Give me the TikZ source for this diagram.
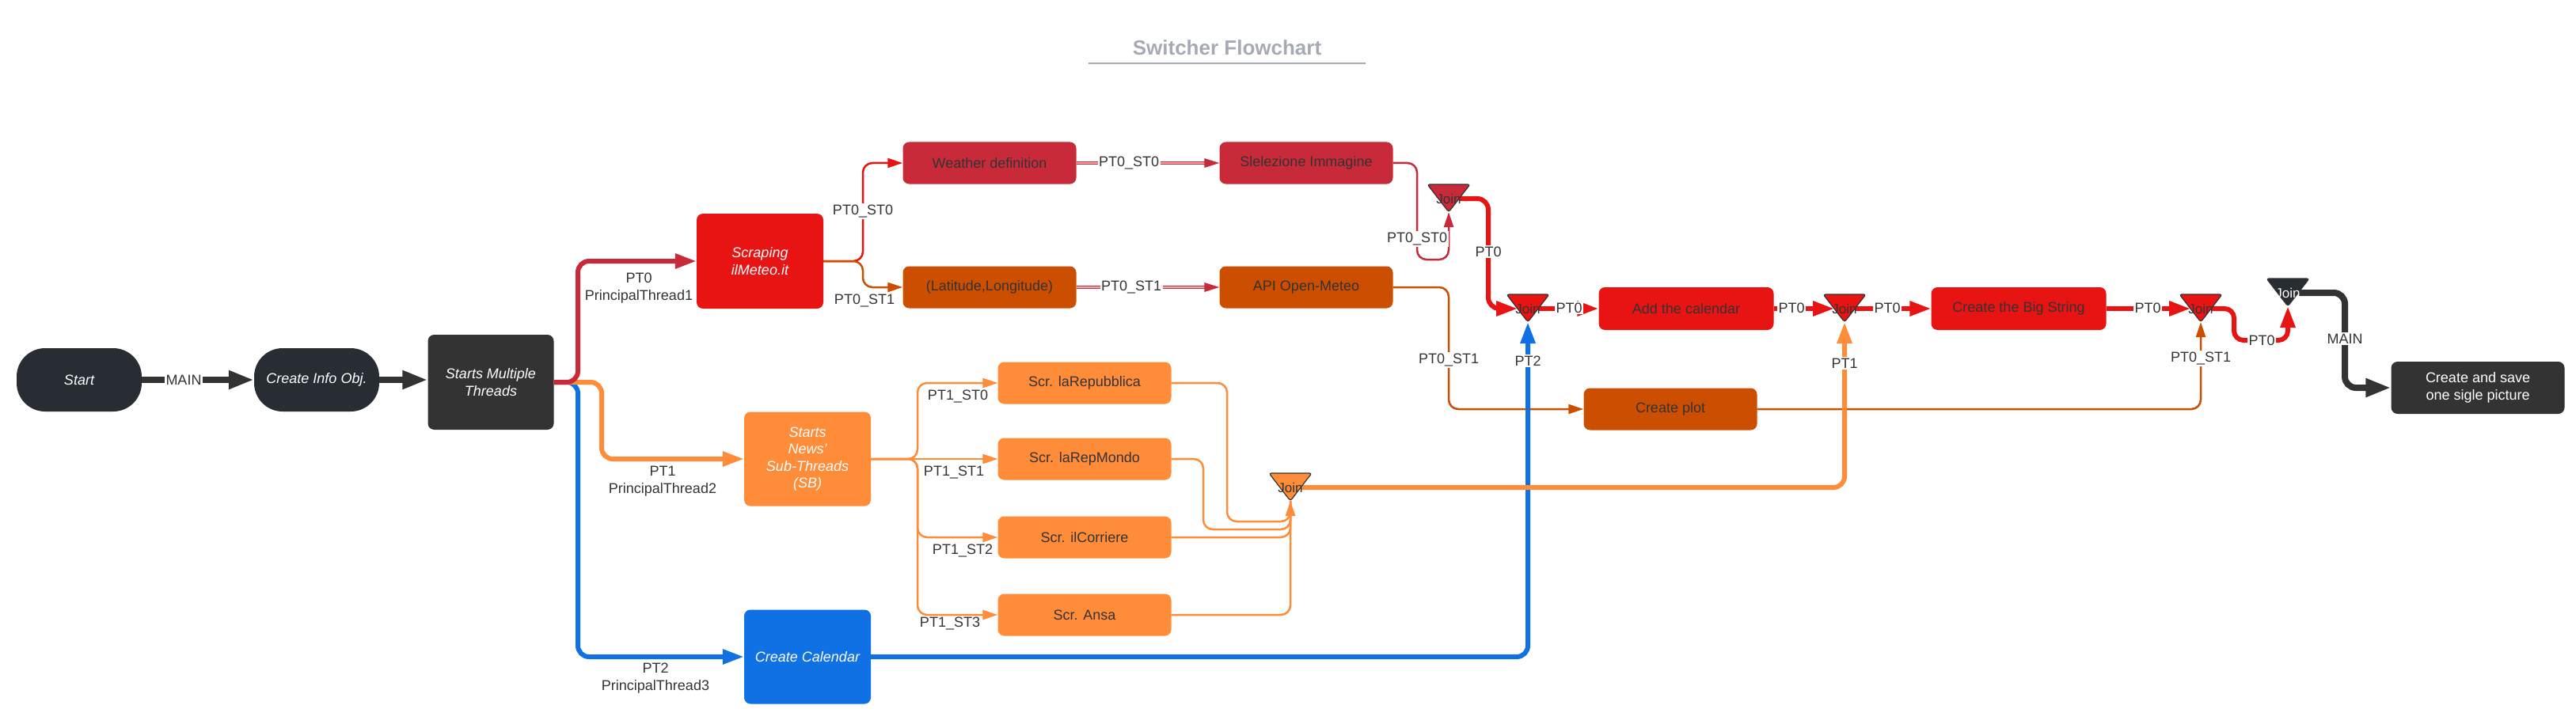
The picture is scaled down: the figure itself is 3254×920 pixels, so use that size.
\documentclass[tikz,border=0pt]{standalone}
\usepackage{fontspec}
\setmainfont{Liberation Sans}
\usetikzlibrary{arrows.meta,calc}
\definecolor{cDark}{HTML}{282C33}
\definecolor{cGray}{HTML}{333333}
\definecolor{cCrim}{HTML}{C92A39}
\definecolor{cRed}{HTML}{E81313}
\definecolor{cDOr}{HTML}{CC4E00}
\definecolor{cOr}{HTML}{FF8C38}
\definecolor{cBlue}{HTML}{1071E5}
\definecolor{cTitle}{HTML}{A5AAB4}
\definecolor{cTxt}{HTML}{333333}
\newcommand{\fsA}{\fontsize{18}{21.5}\selectfont}
\newcommand{\fsI}{\fontsize{18}{21.5}\selectfont\itshape}
\newcommand{\joincoords}[3]{%
  \coordinate (#1b) at (#2,#3+35);
  \coordinate (#1l) at (#2-13,#3+18);
  \coordinate (#1r) at (#2+14,#3+18);
}
\newcommand{\joindraw}[5]{%
  \filldraw[fill=#4, draw=cGray, line width=1.2pt, rounded corners=3pt] (#2-27,#3) -- (#2+27,#3) -- (#2,#3+35) -- cycle;
  \node[font=\fontsize{17}{20}\selectfont, text=#5, inner sep=0pt] (#1) at (#2,#3+18) {Join};
}
\begin{document}
\begin{tikzpicture}[x=1pt,y=-1pt,
  term/.style={rectangle, rounded corners=36pt, fill=cDark, minimum width=158pt, minimum height=80pt, text=white, font=\fsI, inner sep=0pt, align=center},
  box/.style={rectangle, rounded corners=8pt, inner sep=0pt, align=center, font=\fsA, text=cTxt},
  wbox/.style={box, text=white, font=\fsI},
  sbox/.style={box, minimum width=219pt, minimum height=53pt},
  lbl/.style={font=\fsA, text=cTxt, inner sep=1.5pt, fill=white},
  lblnb/.style={font=\fsA, text=cTxt, inner sep=1pt, align=center},
  mainln/.style={draw=cGray, line width=8pt, rounded corners=14pt, -{Triangle[length=32pt,width=22pt]}},
  thk/.style={line width=6pt, rounded corners=14pt, -{Triangle[length=27pt,width=18pt]}},
  thn/.style={line width=2.5pt, rounded corners=12pt, -{Triangle[length=19pt,width=12pt]}},
  thnn/.style={line width=2.5pt, rounded corners=12pt},
  dbl/.style={draw=cCrim, line width=1.3pt, double=cCrim!40!white, double distance=1.6pt}
]
\useasboundingbox (0,0) rectangle (3254,920);
\fill[white] (0,0) rectangle (3254,920);

% title
\node[font=\fontsize{26}{30}\selectfont\bfseries, text=cTitle] (title) at (1550,60) {Switcher Flowchart};
\draw[cTitle, line width=2.5pt] (1375,80) -- (1725,80);

% nodes
\node[term] (start) at (100,480) {Start};
\node[term] (info) at (400,480) {Create Info Obj.};
\node[wbox, fill=cGray, minimum width=159pt, minimum height=120pt] (smt) at (620,483) {Starts Multiple\\Threads};
\node[wbox, fill=cRed, minimum width=160pt, minimum height=120pt] (scr) at (960,330) {Scraping\\ilMeteo.it};
\node[wbox, fill=cOr, minimum width=160pt, minimum height=119pt] (sn) at (1020,580) {Starts\\News'\\Sub-Threads\\(SB)};
\node[wbox, fill=cBlue, minimum width=160pt, minimum height=119pt] (ccal) at (1020,830) {Create Calendar};

\node[sbox, fill=cCrim] (wd) at (1250,206) {Weather definition};
\node[sbox, fill=cCrim] (sel) at (1650,206) {Slelezione Immagine};
\node[sbox, fill=cDOr] (lat) at (1250,363) {(Latitude,Longitude)};
\node[sbox, fill=cDOr] (api) at (1650,363) {API Open-Meteo};
\node[sbox, fill=cDOr] (plot) at (2110,517) {Create plot};
\node[sbox, fill=cRed, minimum width=221pt, minimum height=54pt] (cal) at (2130,390) {Add the calendar};
\node[sbox, fill=cRed, minimum width=221pt, minimum height=54pt] (big) at (2550,390) {Create the Big String};
\node[sbox, fill=cGray, text=white, minimum height=66pt] (save) at (3130,490) {Create and save\\one sigle picture};

\node[sbox, fill=cOr] (s1) at (1370,484) {Scr. laRepubblica};
\node[sbox, fill=cOr] (s2) at (1370,580) {Scr. laRepMondo};
\node[sbox, fill=cOr] (s3) at (1370,679) {Scr. ilCorriere};
\node[sbox, fill=cOr] (s4) at (1370,777) {Scr. Ansa};

% join coordinates
\joincoords{ja}{1830}{233}
\joincoords{jb}{1930}{372}
\joincoords{jc}{2330}{372}
\joincoords{jd}{2780}{372}
\joincoords{je}{2890}{352}
\joincoords{jf}{1630}{598}

% main connectors
\draw[mainln] (start) -- (info);
\draw[mainln] (info.east) -- (info.east -| smt.west);

% principal threads (blue first, red on top)
\draw[thk, draw=cBlue] (smt.east) -- (730,483) -- (730,830) -- (ccal.west);
\draw[thk, draw=cOr] (smt.east) -- (760,483) -- (760,580) -- (sn.west);
\draw[thk, draw=cCrim] (smt.east) -- (730,483) -- (730,330) -- (scr.west);

% PT0 sub threads
\draw[thn, draw=cRed] (scr.east) -- (1090,330) -- (1090,206) -- (wd.west);
\draw[thn, draw=cDOr] (scr.east) -- (1090,330) -- (1090,363) -- (lat.west);
\draw[dbl] (wd.east) -- ($(sel.west)+(-18,0)$);
\fill[cCrim] (sel.west) -- ++(-19,-6) -- ++(0,12) -- cycle;
\draw[dbl] (lat.east) -- ($(api.west)+(-18,0)$);
\fill[cCrim] (api.west) -- ++(-19,-6) -- ++(0,12) -- cycle;
\draw[thn, draw=cCrim] (sel.east) -- (1790,206) -- (1790,328) -- (1830,328) -- (jab);
\draw[thn, draw=cDOr] (api.east) -- (1830,363) -- (1830,517) -- (plot.west);
\draw[thn, draw=cDOr] (plot.east) -- (2780,517) -- (jdb);

% PT2
\draw[thk, draw=cBlue] (ccal.east) -- (1930,830) -- (jbb);

% PT1 sub threads
\draw[thn, draw=cOr] (sn.east) -- (1159,580) -- (1159,484) -- (s1.west);
\draw[thn, draw=cOr] (sn.east) -- (s2.west);
\draw[thn, draw=cOr] (sn.east) -- (1159,580) -- (1159,679) -- (s3.west);
\draw[thn, draw=cOr] (sn.east) -- (1159,580) -- (1159,777) -- (s4.west);
\draw[thnn, draw=cOr] (s1.east) -- (1550,484) -- (1550,659) -- (1630,659) -- (jfb);
\draw[thnn, draw=cOr] (s2.east) -- (1520,580) -- (1520,669) -- (1630,669) -- (jfb);
\draw[thnn, draw=cOr] (s3.east) -- (1630,679) -- (jfb);
\draw[thn, draw=cOr] (s4.east) -- (1630,777) -- (jfb);
\draw[thk, draw=cOr] (jfr) -- (2330,616) -- (jcb);

% PT0 main chain
\draw[thk, draw=cRed] (jar) -- (1880,251) -- (1880,390) -- (jbl);
\draw[thk, draw=cRed] (jbr) -- (cal.west);
\draw[thk, draw=cRed] (cal.east) -- (jcl);
\draw[thk, draw=cRed] (jcr) -- (big.west);
\draw[thk, draw=cRed] (big.east) -- (jdl);
\draw[thk, draw=cRed, rounded corners=12pt] (jdr) -- (2822,390) -- (2822,430) -- (2890,430) -- (jeb);
\draw[mainln] (jer) -- (2962,370) -- (2962,490) -- (save.west);

% join shapes
\joindraw{ja}{1830}{233}{cCrim}{cTxt}
\joindraw{jb}{1930}{372}{cRed}{cTxt}
\joindraw{jc}{2330}{372}{cRed}{cTxt}
\joindraw{jd}{2780}{372}{cRed}{cTxt}
\joindraw{je}{2890}{352}{cDark}{white}
\joindraw{jf}{1630}{598}{cOr}{cTxt}

% labels
\node[lbl] (l1) at (232,480) {MAIN};
\node[lblnb] (l2) at (807,364) {PT0\\PrincipalThread1};
\node[lblnb] (l3) at (837,608) {PT1\\PrincipalThread2};
\node[lblnb] (l4) at (828,857) {PT2\\PrincipalThread3};
\node[lbl] (l5) at (1090,267) {PT0\_ST0};
\node[lblnb] (l6) at (1092,380) {PT0\_ST1};
\node[lbl] (l7) at (1426,206) {PT0\_ST0};
\node[lbl] (l8) at (1429,363) {PT0\_ST1};
\node[lbl] (l9) at (1790,302) {PT0\_ST0};
\node[lbl] (l10) at (1880,318) {PT0};
\node[lbl] (l11) at (1830,455) {PT0\_ST1};
\node[lbl] (l12) at (1930,456) {PT2};
\node[lbl] (l13) at (1982,389) {PT0};
\node[lbl] (l14) at (2263,389) {PT0};
\node[lbl] (l15) at (2330,459) {PT1};
\node[lbl] (l16) at (2384,389) {PT0};
\node[lbl] (l17) at (2713,389) {PT0};
\node[lbl] (l18) at (2780,453) {PT0\_ST1};
\node[lbl] (l19) at (2857,430) {PT0};
\node[lbl] (l20) at (2962,428) {MAIN};
\node[lblnb] (l21) at (1210,501) {PT1\_ST0};
\node[lblnb] (l22) at (1205,597) {PT1\_ST1};
\node[lblnb] (l23) at (1216,696) {PT1\_ST2};
\node[lblnb] (l24) at (1200,788) {PT1\_ST3};
\end{tikzpicture}
\end{document}
